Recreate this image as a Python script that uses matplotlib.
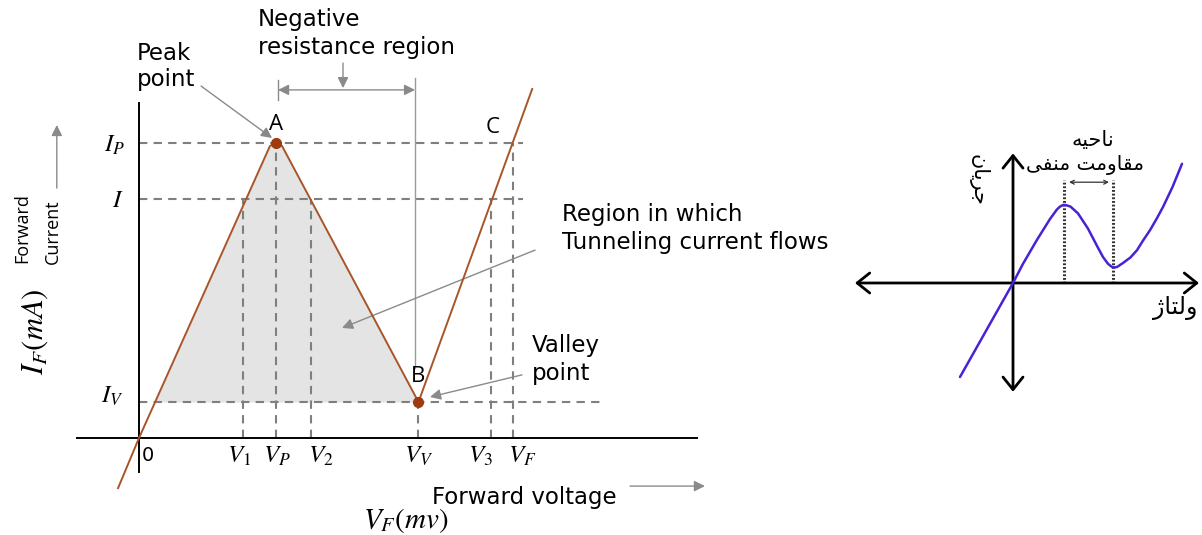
import matplotlib.pyplot as plt

plt.rcParams['font.family'] = ['DejaVu Sans']
plt.rcParams['mathtext.fontset'] = 'stix'

# Tunnel diode I-V curve: forward voltage (mV) vs forward current (mA)
curve_v = [-15.3, 0, 95.6, 100, 104.4, 204, 287]
curve_i = [-1.7, 0, 9.9, 10.0, 9.9, 1.22, 11.83]

v_marks = [76, 100, 125.5, 204, 257, 273]
v_names = [r'$V_1$', r'$V_P$', r'$V_2$', r'$V_V$', r'$V_3$', r'$V_F$']

i_peak, i_mid, i_valley = 10.0, 8.1, 1.22
i_names = [r'$I_P$', r'$I$', r'$I_V$']

peak = (100, 10.0)
valley = (204, 1.22)

# generic sketch on the right (arbitrary units)
sketch_v = [-1.06, 0, 0.2, 0.48, 0.74, 0.88, 0.94, 1.0, 1.05, 1.15, 1.3, 1.5,
            1.7, 1.8, 1.9, 1.98, 2.03, 2.08, 2.2, 2.35, 2.48, 2.6, 2.74, 2.87,
            3.0, 3.19, 3.38]
sketch_i = [-1.175, 0, 0.24, 0.54, 0.8, 0.92, 0.955, 0.975, 0.975, 0.955, 0.87,
            0.68, 0.44, 0.325, 0.24, 0.2, 0.195, 0.2, 0.25, 0.32, 0.41, 0.53,
            0.66, 0.8, 0.95, 1.2, 1.49]
sketch_peak_v, sketch_valley_v = 1.02, 2.0

# Arabic-script labels, written as presentation forms in display order
# (matplotlib does no Arabic shaping)
fa_region = '\ufeea\ufbff\ufea3\ufe8e\ufee7'                 # ناحیه
fa_negres = '\ufbfd\ufed4\ufee8\ufee3 \ufe96\ufee3\ufeed\ufe8e\ufed8\ufee3'  # مقاومت منفی
fa_current = '\ufee5\ufe8e\ufbfe\ufeae\ufe9f'                 # جریان
fa_voltage = '\ufb8a\ufe8e\ufe98\ufedf\ufeed'                 # ولتاژ

fig = plt.figure(figsize=(12.02, 5.35), dpi=100)

# ---------------- left diagram ----------------
ax = fig.add_axes([0, 0, 720 / 1202, 1])
ax.set_xlim(-101.46, 424.09)
ax.set_ylim(-3.288, 14.847)
ax.axis('off')

dash_kw = dict(color='#7f7f7f', lw=1.5, ls=(0, (4, 3)), zorder=1)
gray = '#8a8a8a'
label_size = 16.5

# shaded tunnelling region above the valley current
ax.fill_between(curve_v[1:6], curve_i[1:6], i_valley,
                where=[c >= i_valley for c in curve_i[1:6]],
                interpolate=True, color='#e4e4e4', lw=0, zorder=0)

# guide lines
ax.plot([0, 280], [i_peak, i_peak], **dash_kw)
ax.plot([0, 280], [i_mid, i_mid], **dash_kw)
ax.plot([0, 339], [i_valley, i_valley], **dash_kw)
v_tops = [i_mid, i_peak, i_mid, i_valley, i_mid, i_peak]
for v, top in zip(v_marks, v_tops):
    ax.plot([v, v], [0, top], **dash_kw)

# axes
ax.plot([-45.3, 407.3], [0, 0], color='black', lw=1.4, zorder=3)
ax.plot([0, 0], [-1.15, 11.36], color='black', lw=1.4, zorder=3)

# characteristic curve
ax.plot(curve_v, curve_i, color='#a8552a', lw=1.4, solid_joinstyle='round', zorder=4)
ax.plot(*peak, 'o', color='#9e3a10', ms=7, zorder=5)
ax.plot(*valley, 'o', color='#9e3a10', ms=7, zorder=5)

# point letters
for x, y, s in [(peak[0], 10.61, 'A'), (valley[0], 2.07, 'B'), (258.4, 10.54, 'C')]:
    ax.text(x, y, s, fontsize=16, family='Open Sans', ha='center', va='center')

# tick labels
label_dx = [-3, 1, 7, 0, -8, 7]
for v, name, dx in zip(v_marks, v_names, label_dx):
    ax.text(v + dx, -0.62, name, fontsize=18, ha='center', va='center')
ax.text(6.6, -0.6, '0', fontsize=14, ha='center', va='center')
ax.text(-17.5, 9.93, i_names[0], fontsize=18, ha='center', va='center')
ax.text(-15.3, 8.07, i_names[1], fontsize=18, ha='center', va='center')
ax.text(-19.7, 1.42, i_names[2], fontsize=18, ha='center', va='center')

# axis titles
ax.text(-75.9, 3.6, r'$I_F(mA)$', fontsize=22, rotation=90, ha='center', va='center')
ax.text(-85.4, 7.12, 'Forward', fontsize=13, family='Open Sans', rotation=90,
        ha='center', va='center')
ax.text(-62.8, 6.98, 'Current', fontsize=13, family='Open Sans', rotation=90,
        ha='center', va='center')
ax.text(194.9, -2.81, r'$V_F(mv)$', fontsize=21, ha='center', va='center')
ax.text(214, -2.03, 'Forward voltage', fontsize=label_size, ha='left', va='center')

arrow_kw = dict(arrowstyle='-|>', color=gray, lw=1.0, mutation_scale=16,
                shrinkA=0, shrinkB=0)
ax.annotate('', xy=(-60, 10.61), xytext=(-60, 8.47), arrowprops=arrow_kw)
ax.annotate('', xy=(413.1, -1.63), xytext=(358.4, -1.63), arrowprops=arrow_kw)

# negative resistance region marker
ax.text(86.9, 14.17, 'Negative', fontsize=label_size, ha='left', va='center')
ax.text(86.9, 13.25, 'resistance region', fontsize=label_size, ha='left', va='center')
ax.plot([201.5, 201.5], [2.37, 12.2], color='#9a9a9a', lw=1.0, zorder=1)
ax.plot([101.5, 101.5], [11.46, 12.14], color=gray, lw=1.0)
ax.annotate('', xy=(101.5, 11.8), xytext=(201.5, 11.8),
            arrowprops=dict(arrowstyle='<|-|>', color=gray, lw=1.0,
                            mutation_scale=16, shrinkA=0, shrinkB=0))
ax.annotate('', xy=(148.9, 11.86), xytext=(148.9, 12.71), arrowprops=arrow_kw)

# callouts
ax.text(-1.5, 13.05, 'Peak', fontsize=label_size, ha='left', va='center')
ax.text(-1.5, 12.14, 'point', fontsize=label_size, ha='left', va='center')
ax.annotate('', xy=(97.1, 10.17), xytext=(45.3, 11.93), arrowprops=arrow_kw)

ax.text(308.8, 7.56, 'Region in which', fontsize=label_size, ha='left', va='center')
ax.text(308.8, 6.61, 'Tunneling current flows', fontsize=label_size, ha='left',
        va='center')
ax.annotate('', xy=(148.2, 3.73), xytext=(289.1, 6.37), arrowprops=arrow_kw)

ax.text(286.9, 3.12, 'Valley', fontsize=label_size, ha='left', va='center')
ax.text(286.9, 2.2, 'point', fontsize=label_size, ha='left', va='center')
ax.annotate('', xy=(212.4, 1.39), xytext=(279.6, 2.14), arrowprops=arrow_kw)

# ---------------- right sketch ----------------
bx = fig.add_axes([840 / 1202, 135 / 535, 362 / 1202, 300 / 535])
bx.set_xlim(-3.46, 3.78)
bx.set_ylim(-1.4625, 2.2875)
bx.axis('off')

axis_arrow = dict(arrowstyle='<->, head_length=0.5, head_width=0.4', color='black',
                  lw=2.0, mutation_scale=18, shrinkA=0, shrinkB=0)
bx.annotate('', xy=(3.72, 0), xytext=(-3.16, 0), arrowprops=axis_arrow)
bx.annotate('', xy=(0, 1.62), xytext=(0, -1.36), arrowprops=axis_arrow)

for v in (sketch_peak_v, sketch_valley_v):
    bx.plot([v, v], [0, 1.29], color='#333333', lw=2.2, ls=(0, (0.6, 0.6)))
bx.annotate('', xy=(1.12, 1.26), xytext=(1.92, 1.26),
            arrowprops=dict(arrowstyle='<->', color='#333333', lw=0.9,
                            mutation_scale=7, shrinkA=0, shrinkB=0))

bx.plot(sketch_v, sketch_i, color='#4a22d6', lw=1.8, solid_joinstyle='round',
        solid_capstyle='round', zorder=4)

bx.text(1.6, 1.79, fa_region, fontsize=15, ha='center', va='center')
bx.text(1.44, 1.475, fa_negres, fontsize=14.5, ha='center', va='center')
bx.text(-0.7, 1.29, fa_current, fontsize=15, rotation=-90, ha='center', va='center')
bx.text(3.24, -0.31, fa_voltage, fontsize=17, ha='center', va='center')

fig.savefig('out.png', dpi=100)
